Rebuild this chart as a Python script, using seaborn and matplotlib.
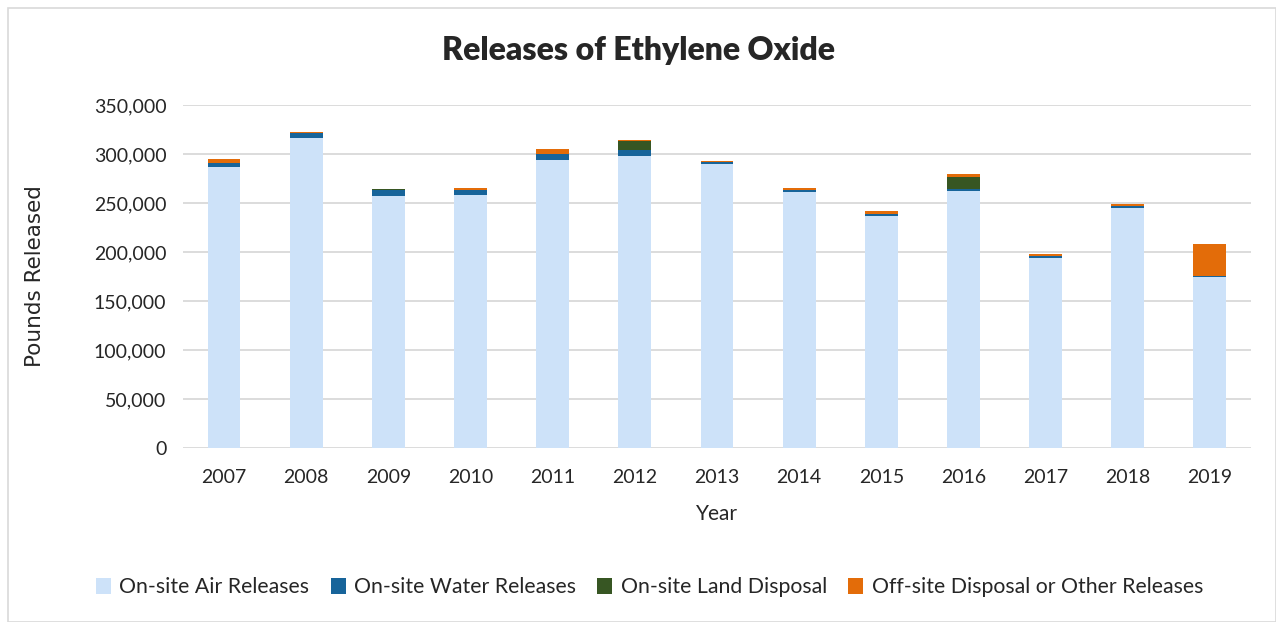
import numpy as np
import pandas as pd
import seaborn as sns
import matplotlib.pyplot as plt
from matplotlib.patches import Patch, Rectangle

years = ['2007', '2008', '2009', '2010', '2011', '2012', '2013',
         '2014', '2015', '2016', '2017', '2018', '2019']
air = [286400, 316600, 257500, 257800, 294200, 297600, 290100,
       260900, 236700, 262200, 193900, 244500, 174500]
water = [4700, 5100, 6100, 5100, 6100, 6800, 2000,
         2700, 1700, 2400, 2400, 2000, 600]
land = [200, 0, 400, 0, 0, 9200, 0,
        0, 0, 11900, 0, 0, 0]
offsite = [3400, 1000, 300, 2400, 4800, 500, 300,
           1500, 3400, 3100, 2000, 2000, 33000]

series = ['On-site Air Releases', 'On-site Water Releases',
          'On-site Land Disposal', 'Off-site Disposal or Other Releases']
colors = ['#cde2f9', '#17649a', '#375623', '#e36c09']

df = pd.DataFrame({'Year': years, series[0]: air, series[1]: water,
                   series[2]: land, series[3]: offsite})
cum = df[series].cumsum(axis=1)
cum['Year'] = df['Year']

sns.set_theme(style='white')
plt.rcParams['font.family'] = ['Lato', 'DejaVu Sans']

fig = plt.figure(figsize=(12.76, 6.22), dpi=100)
ax = fig.add_axes([0.1434, 0.2797, 0.8370, 0.5515])

# draw stacked bars as overlapping cumulative totals, top layer first
for name, col in reversed(list(zip(series, colors))):
    sns.barplot(data=cum, x='Year', y=name, color=col, width=0.4,
                saturation=1, ax=ax, zorder=3, edgecolor='none', linewidth=0)

ax.set_ylim(0, 350000)
ax.set_yticks(np.arange(0, 350001, 50000))
ax.set_yticklabels([f'{v:,}' for v in range(0, 350001, 50000)], fontsize=14)
ax.tick_params(axis='x', labelsize=14, pad=15, length=0)
ax.tick_params(axis='y', length=0, pad=12)
ax.grid(axis='y', color='#d9d9d9', linewidth=1.3, zorder=0)
ax.set_axisbelow(True)
for s in ax.spines.values():
    s.set_visible(False)

ax.set_xlabel('Year', fontsize=15, labelpad=13)
ax.set_ylabel('Pounds Released', fontdict={'family': ['DejaVu Sans'], 'size': 15.5},
              labelpad=35)
fig.text(0.5, 0.919, 'Releases of Ethylene Oxide', ha='center', va='center',
         fontsize=23, fontweight='heavy')

handles = [Patch(facecolor=c, edgecolor='none') for c in colors]
fig.legend(handles, series, loc='center', bbox_to_anchor=(0.509, 0.056),
           ncol=4, frameon=False, fontsize=15.3, handlelength=0.7,
           handleheight=0.8, handletextpad=0.4, columnspacing=1.0)

fig.add_artist(Rectangle((8 / 1276, 0), 1 - 8 / 1276, 1 - 8 / 622,
                         transform=fig.transFigure, fill=False,
                         edgecolor='#d9d9d9', linewidth=1.2))

fig.savefig('out.png', dpi=100)
